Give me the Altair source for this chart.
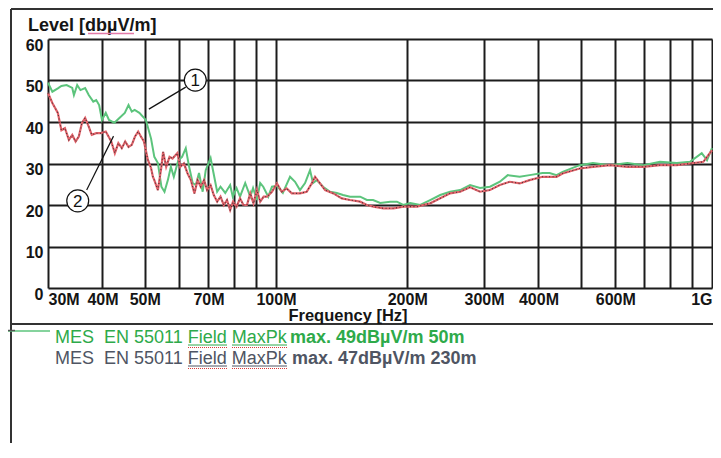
import altair as alt
import pandas as pd

# ---- data ----
freq_green = [30, 30.7, 31.6, 32.2, 33.1, 34.1, 34.4, 35.0, 35.6, 36.5, 37.2, 38.1, 38.7, 39.3, 39.9,
              40.7, 41.4, 42.6, 43.8, 45.0, 45.9, 46.7, 47.4, 48.6,
              50.3, 51.7, 52.6, 53.6, 54.6, 55.5, 56.5, 57.4, 58.3, 59.7,
              60.9, 62.1, 63.1, 64.4, 65.5, 66.6, 67.9, 69.0,
              70.8, 71.9, 73.3, 74.6, 76.5, 78.5, 79.6,
              81.2, 82.7, 85.0, 87.3, 88.6,
              90.4, 92.0, 93.5, 96.0, 97.9,
              100.5, 103.7, 107.7, 110.6, 113.5, 116.6, 119.7, 121.6, 124.0, 128.2, 133.1, 137.9, 142.5,
              147.9, 156.0, 161.6, 167.0, 173.4, 182.8, 189.4, 195.8,
              203.2, 214.2, 225.7, 238.0, 250.8, 264.4, 278.7, 293.7,
              309.6, 326.2, 340.1, 362.2, 381.6,
              408.6, 424.1, 440.1, 454.4, 497.3,
              533.2, 584.2, 639.5, 696.3, 759.9, 830.6, 890.4, 947.2, 974, 1000]
level_green = [49.5, 47.3, 48.1, 48.7, 48.9, 48.2, 46.5, 48.9, 47.7, 48.2, 46.5, 44.9, 45.3, 44.1, 40.5,
               42.2, 40.5, 39.8, 41.0, 42.2, 44.1, 42.5, 42.9, 42.2,
               40.5, 36.0, 31.6, 30.1, 24.4, 23.2, 26.0, 29.2, 26.8, 30.8,
               31.6, 33.7, 29.6, 25.3, 24.8, 27.7, 23.2, 28.4,
               31.3, 27.7, 23.2, 24.4, 22.9, 24.8, 22.0,
               24.1, 22.0, 25.3, 22.0, 24.1,
               21.2, 25.3, 24.4, 22.0, 24.4,
               24.6, 22.9, 26.8, 25.6, 23.6, 25.3, 28.4, 25.3, 26.0, 24.4, 23.2, 22.9, 22.4,
               22.0, 22.0, 21.2, 21.2, 20.5, 20.8, 20.8, 20.0,
               20.5, 20.0, 21.2, 22.4, 23.2, 23.6, 24.8, 24.1,
               24.4, 25.6, 27.2, 26.8, 27.2,
               27.7, 27.7, 27.2, 28.0, 29.6,
               30.1, 29.6, 30.1, 29.6, 30.4, 30.1, 30.4, 32.5, 30.8, 33.7]

freq_red = [30, 30.7, 31.6, 32.2, 32.8, 33.5, 34.1, 34.7, 35.3, 35.9, 36.5, 37.2, 37.8, 38.7, 39.6,
            40.7, 41.9, 42.7, 43.5, 44.3, 45.1, 45.9, 46.7, 47.5, 48.3, 49.0, 49.8,
            50.8, 51.7, 52.2, 52.6, 53.6, 54.6, 55.1, 56.0, 57.0, 57.9, 59.4,
            60.3, 61.5, 62.7, 63.8, 65.0, 66.1, 67.2, 68.4, 69.5,
            70.8, 72.0, 73.3, 74.6, 75.9, 77.2, 78.5, 79.7,
            81.2, 82.7, 84.2, 85.8, 87.3, 88.8,
            90.4, 92.0, 93.7, 95.4, 97.9,
            100.5, 103.1, 105.8, 108.7, 113.5, 117.6, 120.8, 122.9, 126.2, 129.6, 135.4, 141.6,
            147.9, 156.0, 161.6, 167.3, 176.4, 186.0, 196.1,
            210.5, 225.7, 238.0, 250.8, 264.4, 278.7, 293.7,
            309.6, 326.2, 343.7, 362.2, 381.6,
            408.6, 424.1, 440.1, 454.4, 497.3,
            533.2, 584.2, 639.5, 696.3, 759.9, 830.6, 890.4, 955.3, 1000]
level_red = [47.0, 44.6, 42.2, 38.0, 38.5, 35.7, 36.9, 35.3, 36.5, 39.8, 41.0, 38.9, 36.9, 37.3, 37.3,
             37.7, 35.3, 32.5, 34.9, 33.7, 35.3, 34.0, 34.5, 36.5, 37.7, 36.5, 35.3,
             31.0, 28.9, 26.8, 26.0, 23.6, 29.2, 32.8, 29.2, 31.6, 31.2, 32.5,
             29.2, 30.0, 27.6, 26.0, 22.8, 26.0, 24.4, 26.0, 23.6,
             24.8, 22.4, 20.8, 22.0, 20.0, 21.2, 18.8, 20.8,
             19.6, 21.6, 20.0, 20.0, 22.8, 20.4,
             23.6, 20.8, 22.0, 22.0, 23.2,
             25.2, 23.2, 24.0, 22.8, 22.8, 23.2, 25.2, 26.8, 25.2, 23.6, 22.8, 21.6,
             21.2, 20.8, 20.0, 19.6, 19.2, 19.2, 19.6,
             19.6, 20.4, 21.6, 22.8, 23.2, 24.3, 23.2,
             23.6, 24.8, 25.6, 25.2, 26.0,
             26.8, 26.8, 26.8, 27.6, 28.8,
             29.2, 29.6, 29.2, 29.2, 29.6, 29.6, 30.0, 30.4, 33.2]

grid_x = [30, 40, 50, 60, 70, 80, 90, 100, 200, 300, 400, 500, 600, 700, 800, 900, 1000]
labeled_x = [30, 40, 50, 70, 100, 200, 300, 400, 600]
y_ticks = [0, 10, 20, 30, 40, 50, 60]

marker_text = ["1", "2"]
marker_freq = [65.3, 35.1]
marker_level = [50.1, 21.0]
leader_freq_a = [62.1, 36.8]
leader_level_a = [48.4, 23.6]
leader_freq_b = [51.1, 42.4]
leader_level_b = [43.1, 36.6]

x_title = "Frequency [Hz]"
y_title = "Level [db\u00b5V/m]"
legend_regular = ["MES\u00a0\u00a0EN 55011 Field MaxPk", "MES\u00a0\u00a0EN 55011 Field MaxPk"]
legend_bold = ["max. 49dB\u00b5V/m 50m", "max. 47dB\u00b5V/m 230m"]
legend_colors = ["#2eaa4a", "#4f5563"]

FONT = "Liberation Sans"

df_g = pd.DataFrame({"f": freq_green, "v": level_green})
df_r = pd.DataFrame({"f": freq_red, "v": level_red})
df_m = pd.DataFrame({"t": marker_text, "f": marker_freq, "v": marker_level})
df_l = pd.DataFrame({"f": leader_freq_a, "v": leader_level_a, "f2": leader_freq_b, "v2": leader_level_b})
one = pd.DataFrame({"d": [0]})

xs = alt.Scale(type="log", domain=[30, 1000], nice=False)
ys = alt.Scale(domain=[0, 60], nice=False, zero=False)

label_list = ",".join(str(v) for v in labeled_x)
x_axis = alt.Axis(
    values=grid_x, grid=True, gridColor="#1c1c1c", gridWidth=2, domain=False, ticks=False,
    labelExpr=f"datum.value == 1000 ? '1G' : (indexof([{label_list}], datum.value) >= 0 ? datum.value + 'M' : '')",
    labelFlush=True, labelOverlap=False, labelBound=False,
    labelFont=FONT, labelFontWeight="bold", labelFontSize=16, labelColor="#151515",
    labelPadding=3, labelOffset=0, title=None,
)
y_axis = alt.Axis(
    values=y_ticks, grid=True, gridColor="#1c1c1c", gridWidth=2, domain=False, ticks=False,
    labelFont=FONT, labelFontWeight="bold", labelFontSize=16, labelColor="#151515",
    labelPadding=5, labelOffset=6, title=None,
)

X = alt.X("f:Q", scale=xs, axis=x_axis, title=None)
Y = alt.Y("v:Q", scale=ys, axis=y_axis, title=None)

green = alt.Chart(df_g).mark_line(color="#5cc47c", strokeWidth=2).encode(x=X, y=Y)
red = alt.Chart(df_r).mark_line(color="#e2626a", strokeWidth=2.2).encode(x=X, y=Y)
red_dots = alt.Chart(df_r).mark_line(color="#2a2a2a", strokeWidth=1.1, strokeDash=[1, 2.5], opacity=0.85).encode(x=X, y=Y)

leaders = alt.Chart(df_l).mark_rule(color="#111", strokeWidth=1.2).encode(
    x=X, x2="f2:Q", y=Y, y2="v2:Q")
circles = alt.Chart(df_m).mark_point(shape="circle", size=480, filled=False, fill="white",
                                     fillOpacity=1, stroke="#111", strokeWidth=1.2, opacity=1).encode(x=X, y=Y)
circle_txt = alt.Chart(df_m).mark_text(font=FONT, fontSize=17, color="#111", baseline="middle",
                                       align="center", dy=1).encode(x=X, y=Y, text="t:N")


def hrule(x1, x2, y, color, width, dash=None):
    kw = dict(color=color, strokeWidth=width)
    if dash:
        kw["strokeDash"] = dash
    return alt.Chart(one).mark_rule(**kw).encode(x=alt.value(x1), x2=alt.value(x2), y=alt.value(y))


def vrule(x, y1, y2, color, width):
    return alt.Chart(one).mark_rule(color=color, strokeWidth=width).encode(
        x=alt.value(x), y=alt.value(y1), y2=alt.value(y2))


def txt(s, x, y, color, bold=False, size=18, align="left"):
    return alt.Chart(one).mark_text(text=s, font=FONT, fontSize=size, color=color, align=align,
                                    baseline="alphabetic",
                                    fontWeight="bold" if bold else "normal").encode(
        x=alt.value(x), y=alt.value(y))


deco = [
    hrule(-37, 665, -30, "#333333", 2),          # top frame
    vrule(-37, -30, 404, "#333333", 2),          # left frame
    hrule(-37, 665, 285, "#333333", 2),          # separator above legend
    hrule(-40, 2, 292, "#5cc47c", 1.5),          # legend line sample
    hrule(-40, -33, 291.5, "#555555", 1.5),
    txt(y_title, -20, -8, "#151515", bold=True, size=18),
    txt(x_title, 300, 281.5, "#151515", bold=True, size=16.5, align="center"),
    hrule(40, 86, -5.5, "#e27aa8", 1.5),         # spell-check underline in title
]
legend_layers = []
for i in range(2):
    base_y = 304 + 21 * i
    legend_layers.append(txt(legend_regular[i], 7, base_y, legend_colors[i]))
    legend_layers.append(txt(legend_bold[i], 242 + 2 * i, base_y, legend_colors[i], bold=True))
    for (a, b) in [(140, 179), (184, 239)]:
        legend_layers.append(hrule(a, b, base_y + 2, legend_colors[i], 1))
        legend_layers.append(hrule(a, b, base_y + 4.5, "#d83a3a", 1, [1, 1]))

chart = alt.layer(
    green, red, red_dots, leaders, circles, circle_txt, *deco, *legend_layers
).properties(
    width=664, height=249,
    padding={"left": 40, "top": 31, "right": 1, "bottom": 155},
    autosize=alt.AutoSizeParams(type="none"),
    background="white",
).configure_view(stroke=None)

chart.save("out.html", embed_options={"renderer": "svg", "actions": False})
